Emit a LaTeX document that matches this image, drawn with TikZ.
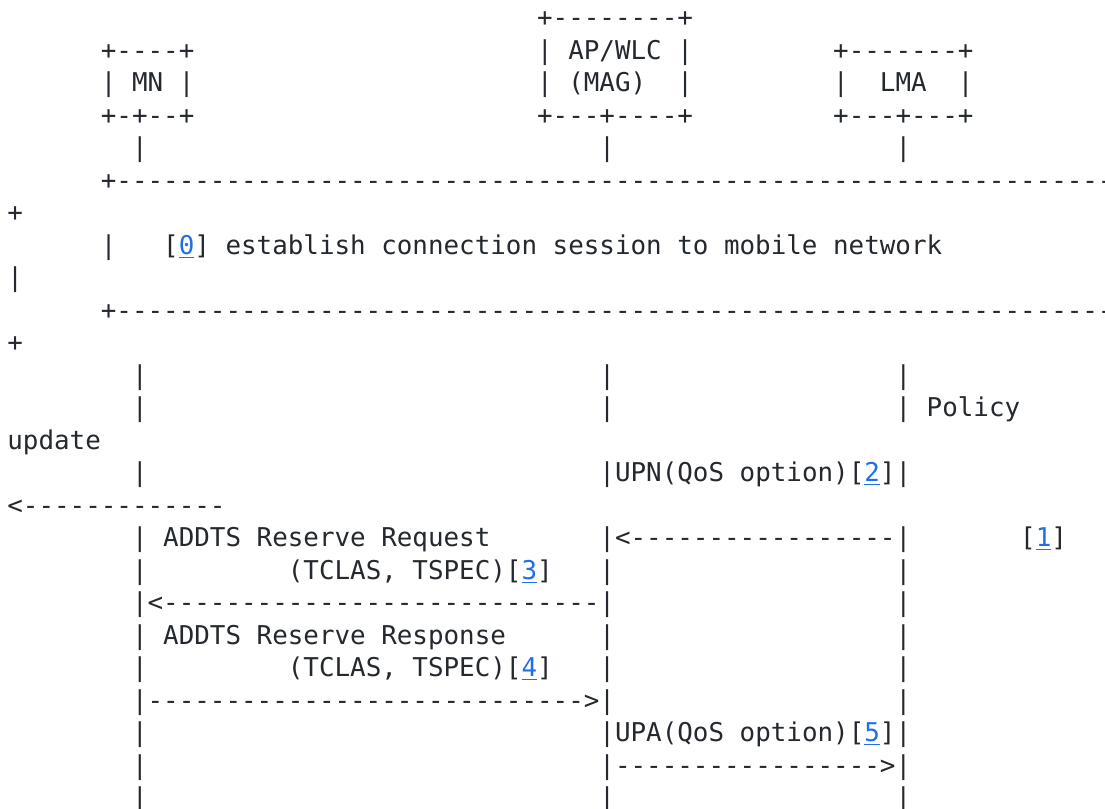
\documentclass[tikz,border=0pt]{standalone}
\usepackage{fontspec}
\setmonofont{DejaVu Sans Mono}
\definecolor{ink}{RGB}{36,41,47}
\definecolor{linkblue}{RGB}{31,111,235}
\newlength\cw
\setlength\cw{11.686pt}
\newcommand\sk[1]{\hspace*{#1\cw}}
\newcommand\dashrun[1]{\foreach\i in {1,...,#1}{-}}
\newcommand\lnk[1]{\textcolor{linkblue}{\rlap{\rule[-2.6pt]{\cw}{0.8pt}}#1}}
\tikzset{
  asciirow/.style={anchor=base west, inner sep=0pt, outer sep=0pt, text=ink,
    font=\ttfamily\fontsize{19.41}{24}\selectfont\frenchspacing\settowidth{\cw}{0}}
}
\begin{document}
\begin{tikzpicture}[x=0.75pt,y=-0.75pt]
\useasboundingbox[fill=white] (0,0) rectangle (1105,808);
\clip (0,0) rectangle (1105,808);
\def\xo{7.4}
\node[asciirow] (r1) at (\xo,26.7) {\sk{34}+--------+};
\node[asciirow] (r2) at (\xo,59.2) {\sk{6}+----+\sk{22}|~AP/WLC~|\sk{9}+-------+};
\node[asciirow] (r3) at (\xo,91.7) {\sk{6}|~MN~|\sk{22}|~(MAG)\sk{2}|\sk{9}|\sk{2}LMA\sk{2}|};
\node[asciirow] (r4) at (\xo,124.2) {\sk{6}+-+--+\sk{22}+---+----+\sk{9}+---+---+};
\node[asciirow] (r5) at (\xo,156.7) {\sk{8}|\sk{29}|\sk{18}|};
\node[asciirow] (r6) at (\xo,189.2) {\sk{6}+\dashrun{72}};
\node[asciirow] (r7) at (\xo,221.7) {+};
\node[asciirow] (r8) at (\xo,254.2) {\sk{6}|\sk{3}[\lnk{0}]~establish~connection~session~to~mobile~network};
\node[asciirow] (r9) at (\xo,286.7) {|};
\node[asciirow] (r10) at (\xo,319.2) {\sk{6}+\dashrun{72}};
\node[asciirow] (r11) at (\xo,351.7) {+};
\node[asciirow] (r12) at (\xo,384.2) {\sk{8}|\sk{29}|\sk{18}|};
\node[asciirow] (r13) at (\xo,416.7) {\sk{8}|\sk{29}|\sk{18}|~Policy};
\node[asciirow] (r14) at (\xo,449.2) {update};
\node[asciirow] (r15) at (\xo,481.7) {\sk{8}|\sk{29}|UPN(QoS~option)[\lnk{2}]|};
\node[asciirow] (r16) at (\xo,514.2) {<\dashrun{13}};
\node[asciirow] (r17) at (\xo,546.7) {\sk{8}|~ADDTS~Reserve~Request\sk{7}|<\dashrun{17}|\sk{7}[\lnk{1}]};
\node[asciirow] (r18) at (\xo,579.2) {\sk{8}|\sk{9}(TCLAS,~TSPEC)[\lnk{3}]\sk{3}|\sk{18}|};
\node[asciirow] (r19) at (\xo,611.7) {\sk{8}|<\dashrun{28}|\sk{18}|};
\node[asciirow] (r20) at (\xo,644.2) {\sk{8}|~ADDTS~Reserve~Response\sk{6}|\sk{18}|};
\node[asciirow] (r21) at (\xo,676.7) {\sk{8}|\sk{9}(TCLAS,~TSPEC)[\lnk{4}]\sk{3}|\sk{18}|};
\node[asciirow] (r22) at (\xo,709.2) {\sk{8}|\dashrun{28}>|\sk{18}|};
\node[asciirow] (r23) at (\xo,741.7) {\sk{8}|\sk{29}|UPA(QoS~option)[\lnk{5}]|};
\node[asciirow] (r24) at (\xo,774.2) {\sk{8}|\sk{29}|\dashrun{17}>|};
\node[asciirow] (r25) at (\xo,806.7) {\sk{8}|\sk{29}|\sk{18}|};
\end{tikzpicture}
\end{document}
